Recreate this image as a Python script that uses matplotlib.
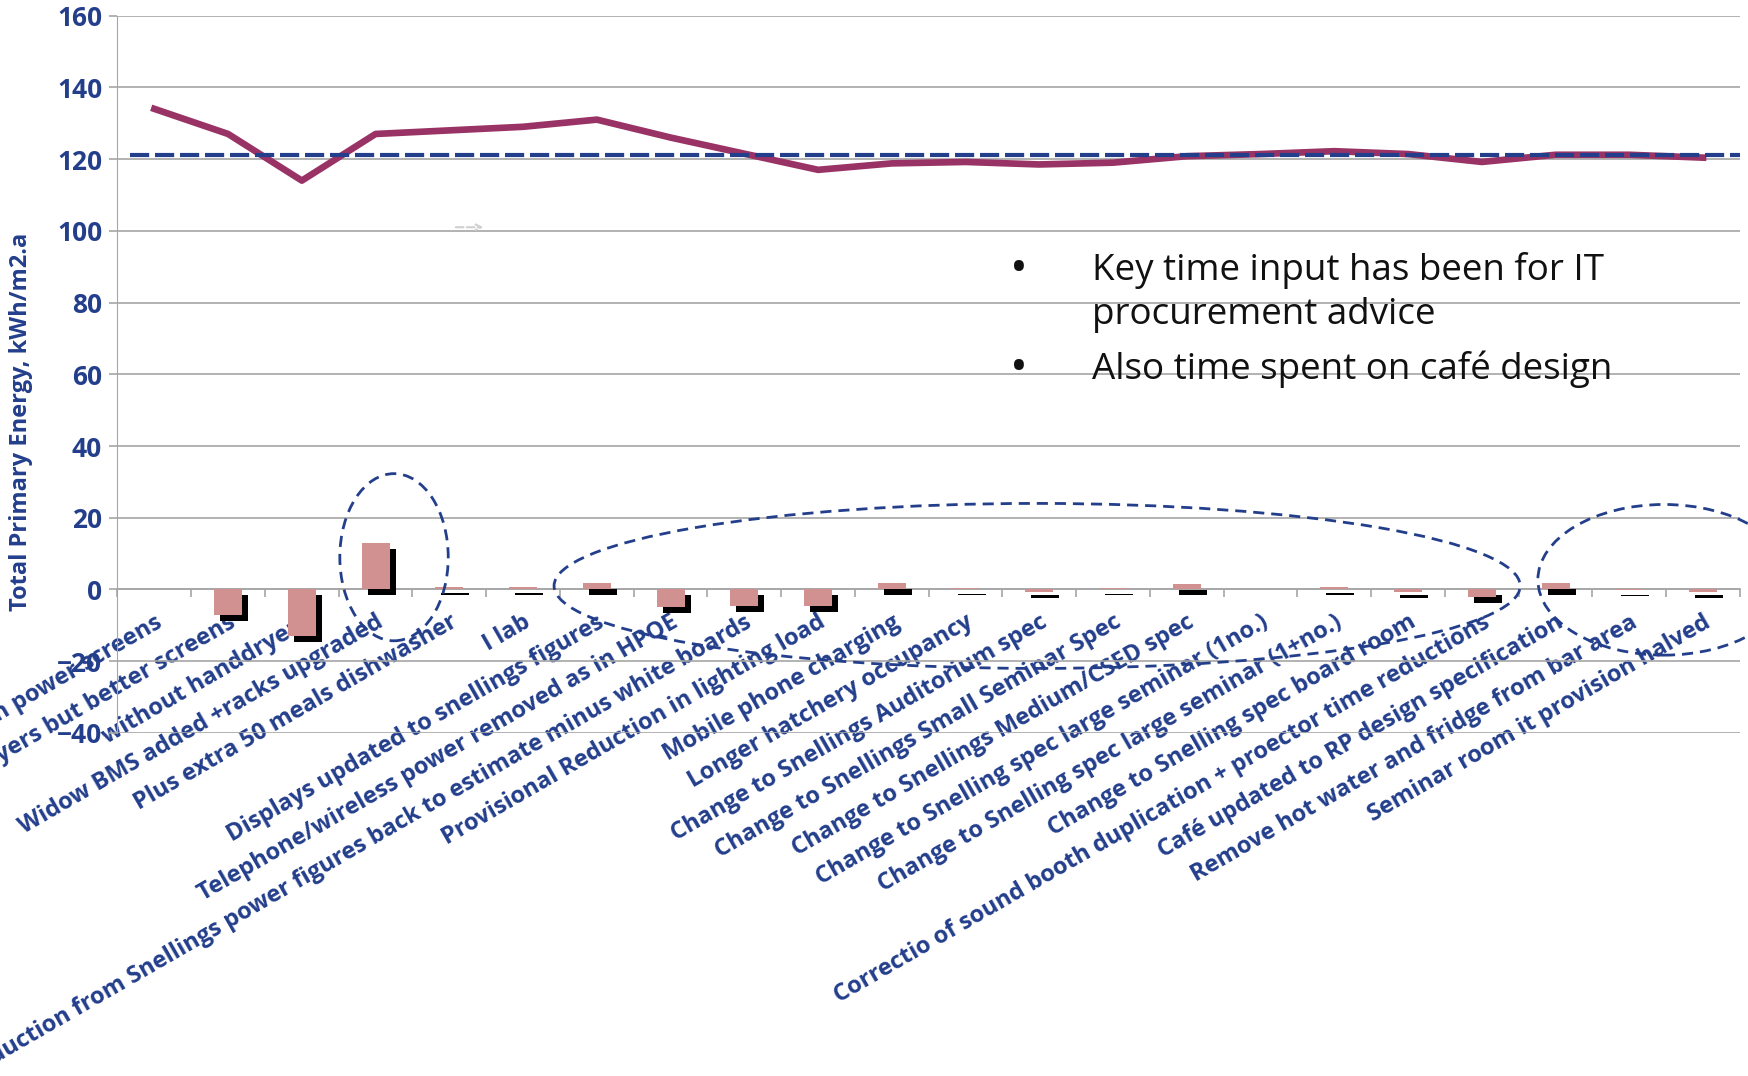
import matplotlib
matplotlib.use("Agg")
import matplotlib.pyplot as plt
import matplotlib.patheffects as pe
from matplotlib.patches import Ellipse
from matplotlib.ticker import MultipleLocator
import numpy as np

plt.rcParams['font.family'] = ['Open Sans', 'DejaVu Sans']

steps = [
    "Main power screens",
    "Handdryers but better screens",
    "without handdryers",
    "Widow BMS added +racks upgraded",
    "Plus extra 50 meals dishwasher",
    "I lab",
    "Displays updated to snellings figures",
    "Telephone/wireless power removed as in HPQE",
    "Reduction from Snellings power figures back to estimate minus white boards",
    "Provisional Reduction in lighting load",
    "Mobile phone charging",
    "Longer hatchery occupancy",
    "Change to Snellings Auditorium spec",
    "Change to Snellings Small Seminar Spec",
    "Change to Snellings Medium/CSED spec",
    "Change to Snelling spec large seminar (1no.)",
    "Change to Snelling spec large seminar (1+no.)",
    "Change to Snelling spec board room",
    "Correctio of sound booth duplication + proector time reductions",
    "Café updated to RP design specification",
    "Remove hot water and fridge from bar area",
    "Seminar room it provision halved",
]
# change at each step (kWh/m2.a)
change = [0, -7, -13, 13, 0.8, 0.8, 1.8, -5, -4.5, -4.5, 1.8, 0.4,
          -0.8, 0.4, 1.6, 0.2, 0.6, -0.8, -2, 1.8, -0.1, -0.7]
# running total after each step
total = [134, 127, 114, 127, 128, 129, 131, 126, 121.5, 117, 118.8, 119.2,
         118.5, 119, 120.8, 121.4, 122.2, 121.4, 119.2, 121.2, 121.2, 120.4]
target = 121

blue = '#233E8B'
pink = '#D29191'
plum = '#993366'
grid_grey = '#A6A6A6'

fig = plt.figure(figsize=(17.48, 10.76), dpi=100)
ax = fig.add_axes([0.0672, 0.3188, 0.9282, 0.6667])

x = np.arange(len(steps))

ax.bar(x, change, width=0.38, color=pink, zorder=3,
       path_effects=[pe.SimplePatchShadow(offset=(4.3, -4.3), shadow_rgbFace='black', alpha=1.0),
                     pe.Normal()])
ax.plot(x, total, color=plum, lw=4.8, zorder=4)
ax.axhline(target, xmin=0.008, xmax=1, color=blue, lw=3, zorder=5,
           linestyle=(0, (4.6, 1.4)))

ax.set_xlim(-0.5, len(steps) - 0.5)
ax.set_ylim(-40, 160)
ax.yaxis.set_major_locator(MultipleLocator(20))
ax.grid(axis='y', color=grid_grey, lw=1.2, zorder=0)
ax.set_axisbelow(True)

for side in ['top', 'right']:
    ax.spines[side].set_visible(False)
ax.spines['left'].set_color(grid_grey)
ax.spines['bottom'].set_position(('data', 0))
ax.spines['bottom'].set_color(grid_grey)
ax.spines['bottom'].set_linewidth(1.2)

ax.tick_params(axis='y', colors=grid_grey, length=6, width=1.2,
               labelcolor=blue, labelsize=19, pad=5)
for lbl in ax.get_yticklabels():
    lbl.set_fontweight('bold')

ax.set_xticks(x)
ax.set_xticks(np.arange(len(steps) + 1) - 0.5, minor=True)
ax.tick_params(axis='x', which='major', length=0, pad=15, labelsize=17, labelcolor=blue)
ax.tick_params(axis='x', which='minor', length=6, width=1.2, color=grid_grey, direction='out')
ax.set_xticklabels(steps, rotation=30, ha='right', rotation_mode='anchor',
                   fontweight='bold')

ax.set_ylabel("Total Primary Energy, kWh/m2.a", color=blue, fontsize=17,
              fontweight='bold')
ax.yaxis.set_label_coords(-0.052, 0.433)

# dashed rings around the groups of changes
ring = dict(fill=False, edgecolor=blue, lw=2, linestyle=(0, (4, 2.5)), zorder=6, clip_on=False)
ax.add_patch(Ellipse((3.25, 9.0), 1.47, 46.6, **ring))
ax.add_patch(Ellipse((11.97, 1.0), 13.1, 46, **ring))
ax.add_patch(Ellipse((20.47, 2.7), 3.42, 42, **ring))

# faint arrow left on the slide
ax.annotate('', xy=(4.5, 101), xytext=(4.05, 101),
            arrowprops=dict(arrowstyle='->', color='#D0D0D0', lw=1.5, linestyle='--'))

# notes
note = dict(fontsize=26.5, color='#111111', va='baseline')
dot = dict(fontsize=34, color='#111111', va='baseline')
fig.text(1010 / 1748, 1 - 283 / 1076, '•', **dot)
fig.text(1092 / 1748, 1 - 280 / 1076, 'Key time input has been for IT', **note)
fig.text(1092 / 1748, 1 - 324 / 1076, 'procurement advice', **note)
fig.text(1010 / 1748, 1 - 382 / 1076, '•', **dot)
fig.text(1092 / 1748, 1 - 379 / 1076, 'Also time spent on café design', **note)

fig.savefig('out.png', dpi=100)
